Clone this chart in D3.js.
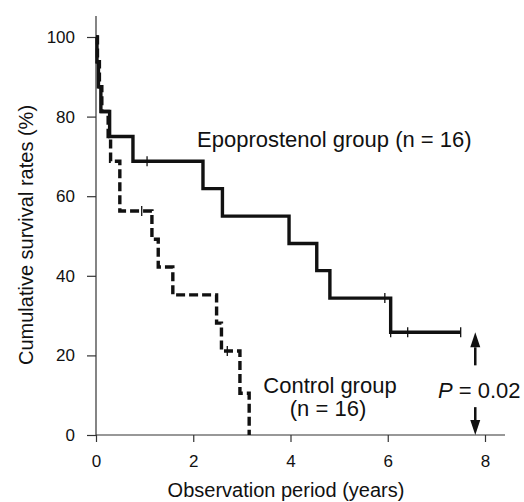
<!DOCTYPE html>
<html>
<head>
<meta charset="utf-8">
<script src="https://cdn.jsdelivr.net/npm/d3@7"></script>
<style>
  body { margin: 0; background: #fff; }
  text { font-family: "Liberation Sans", Arial, sans-serif; fill: #111; }
</style>
</head>
<body>
<div id="chart"></div>
<script>
var width = 524;
var height = 502;

// Epoprostenol group: step times (years) and survival (%) after each step
var epoStepT = [0, 0.02, 0.05, 0.1, 0.28, 0.76, 2.2, 2.6, 3.97, 4.54, 4.81, 6.06];
var epoStepS = [100, 93.8, 87.5, 81.3, 75, 68.8, 61.9, 55.0, 48.1, 41.3, 34.4, 25.8];
var epoEndT = 7.5;
var epoCensor = [1.05, 5.94, 6.06, 6.41, 7.5];

// Control group
var ctlStepT = [0, 0.03, 0.07, 0.12, 0.25, 0.3, 0.49, 1.15, 1.28, 1.58, 2.48, 2.58, 2.96, 3.15];
var ctlStepS = [100, 93.8, 87.5, 81.3, 75, 68.8, 56.3, 49.2, 42.2, 35.2, 28.1, 21.1, 10.5, 0];
var ctlEndT = 3.15;
var ctlCensor = [0.94, 2.7];

var xTicks = [0, 2, 4, 6, 8];
var yTicks = [0, 20, 40, 60, 80, 100];

var pArrowX = 7.8;
var pArrowUp = [17.5, 25.8];
var pArrowDown = [7, 0];

var svg = d3.select("#chart").append("svg")
    .attr("width", width)
    .attr("height", height);

var x = d3.scaleLinear().domain([0, 8]).range([96, 485]);
var y = d3.scaleLinear().domain([0, 100]).range([435, 37]);

// axes
var yAxis = svg.append("g")
    .attr("transform", "translate(96,0)")
    .call(d3.axisLeft(y).tickValues(yTicks).tickSize(9).tickPadding(12));
var xAxis = svg.append("g")
    .attr("transform", "translate(0,435)")
    .call(d3.axisBottom(x).tickValues(xTicks).tickSize(7).tickPadding(13));

[yAxis, xAxis].forEach(function(g) {
    g.select(".domain").remove();
    g.selectAll(".tick line").attr("stroke", "#333").attr("stroke-width", 1.2);
    g.selectAll(".tick text")
        .style("font-family", '"Liberation Sans", Arial, sans-serif')
        .style("font-size", "17px")
        .attr("fill", "#111");
});

svg.append("line")
    .attr("x1", 96).attr("x2", 96).attr("y1", 16).attr("y2", 435)
    .attr("stroke", "#333").attr("stroke-width", 1.2);
svg.append("line")
    .attr("x1", 96).attr("x2", 505).attr("y1", 435).attr("y2", 435)
    .attr("stroke", "#333").attr("stroke-width", 1.2);

function stepPoints(ts, ss, endT) {
    var pts = ts.map(function(t, i) { return [t, ss[i]]; });
    pts.push([endT, ss[ss.length - 1]]);
    return pts;
}

function survAt(ts, ss, t) {
    var s = ss[0];
    for (var i = 0; i < ts.length; i++) {
        if (ts[i] <= t) s = ss[i];
    }
    return s;
}

var line = d3.line()
    .x(function(d) { return x(d[0]); })
    .y(function(d) { return y(d[1]); })
    .curve(d3.curveStepAfter);

svg.append("path")
    .datum(stepPoints(ctlStepT, ctlStepS, ctlEndT))
    .attr("d", line)
    .attr("fill", "none")
    .attr("stroke", "#111")
    .attr("stroke-width", 3.4)
    .attr("stroke-dasharray", "9,4");

svg.append("path")
    .datum(stepPoints(epoStepT, epoStepS, epoEndT))
    .attr("d", line)
    .attr("fill", "none")
    .attr("stroke", "#111")
    .attr("stroke-width", 3.4);

function censorMarks(cls, times, ts, ss) {
    svg.selectAll("line." + cls)
        .data(times)
        .enter().append("line")
        .attr("class", cls)
        .attr("x1", function(d) { return x(d); })
        .attr("x2", function(d) { return x(d); })
        .attr("y1", function(d) { return y(survAt(ts, ss, d)) - 5; })
        .attr("y2", function(d) { return y(survAt(ts, ss, d)) + 5; })
        .attr("stroke", "#111")
        .attr("stroke-width", 1.3);
}
censorMarks("c-epo", epoCensor, epoStepT, epoStepS);
censorMarks("c-ctl", ctlCensor, ctlStepT, ctlStepS);

// arrows
function arrow(from, to) {
    var x0 = x(pArrowX);
    var y0 = y(from), y1 = y(to);
    var dir = y1 < y0 ? 1 : -1;
    var base = y1 + dir * 15;
    svg.append("line")
        .attr("x1", x0).attr("x2", x0)
        .attr("y1", y0).attr("y2", base)
        .attr("stroke", "#111").attr("stroke-width", 2.5);
    svg.append("path")
        .attr("d", "M" + (x0 - 5) + "," + base + "L" + (x0 + 5) + "," + base + "L" + x0 + "," + y1 + "Z")
        .attr("fill", "#111");
}
arrow(pArrowUp[0], pArrowUp[1]);
arrow(pArrowDown[0], pArrowDown[1]);

// labels
svg.append("text")
    .attr("x", 197).attr("y", 147)
    .style("font-size", "22px")
    .text("Epoprostenol group (n = 16)");

svg.append("text")
    .attr("x", 330).attr("y", 393)
    .attr("text-anchor", "middle")
    .style("font-size", "22px")
    .text("Control group");
svg.append("text")
    .attr("x", 328).attr("y", 416)
    .attr("text-anchor", "middle")
    .style("font-size", "22px")
    .text("(n = 16)");

var pt = svg.append("text")
    .attr("x", 438).attr("y", 398)
    .style("font-size", "22px");
pt.append("tspan").style("font-style", "italic").text("P");
pt.append("tspan").text(" = 0.02");

svg.append("text")
    .attr("x", 286).attr("y", 497)
    .attr("text-anchor", "middle")
    .style("font-size", "20px")
    .text("Observation period (years)");

svg.append("text")
    .attr("transform", "translate(33,235) rotate(-90)")
    .attr("text-anchor", "middle")
    .style("font-size", "20px")
    .text("Cumulative survival rates (%)");
</script>
</body>
</html>
